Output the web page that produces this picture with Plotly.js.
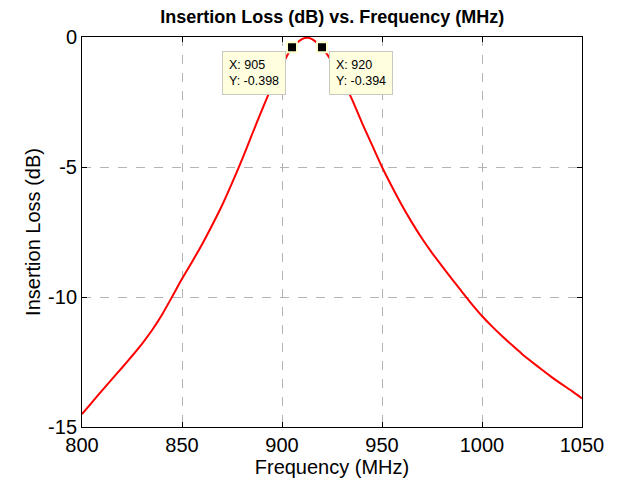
<!DOCTYPE html>
<html>
<head>
<meta charset="utf-8">
<script src="https://cdn.plot.ly/plotly-3.0.1.min.js"></script>
<style>html,body{margin:0;padding:0;background:#fff;}#chart{width:618px;height:483px;}</style>
</head>
<body>
<div id="chart"></div>
<script>
var freq = [800,805,810,815,820,825,830,835,840,845,850,855,860,865,870,875,880,885,890,895,900,905,910,912.5,915,920,925,930,935,940,945,950,955,960,965,970,975,980,985,990,995,1000,1005,1010,1015,1020,1025,1030,1035,1040,1045,1050];
var loss = [-14.5,-14.05,-13.6,-13.16,-12.72,-12.27,-11.8,-11.28,-10.68,-10.0,-9.3,-8.65,-7.98,-7.25,-6.48,-5.62,-4.72,-3.75,-2.8,-1.9,-1.1,-0.398,-0.08,-0.03,-0.08,-0.394,-0.95,-1.6,-2.4,-3.3,-4.15,-5.0,-5.76,-6.48,-7.14,-7.75,-8.3,-8.81,-9.31,-9.8,-10.28,-10.73,-11.13,-11.5,-11.85,-12.19,-12.5,-12.8,-13.09,-13.36,-13.62,-13.9];
var tipX = [905, 920];
var tipY = [-0.398, -0.394];
var xTicks = [800, 850, 900, 950, 1000, 1050];
var yTicks = [0, -5, -10, -15];
var yTickText = ['0', '-5', '-10', '-15'];
var titleText = 'Insertion Loss (dB) vs. Frequency (MHz)';
var xTitle = 'Frequency (MHz)';
var yTitle = 'Insertion Loss (dB)';

var traces = [
  {x: freq, y: loss, type: 'scatter', mode: 'lines', line: {color: '#ff0000', width: 2, shape: 'spline', smoothing: 0.6}, hoverinfo: 'skip'},
  {x: tipX, y: tipY, type: 'scatter', mode: 'markers', marker: {symbol: 'square', size: 10, color: '#000000', line: {color: '#ffffd0', width: 2}}, hoverinfo: 'skip'}
];

var annFont = {family: 'Arial, Liberation Sans, sans-serif', size: 12.5, color: '#000'};
var annotations = [
  {x: 902, y: -0.52, xref: 'x', yref: 'y', xanchor: 'right', yanchor: 'top', showarrow: false, align: 'left',
   text: 'X: ' + tipX[0] + '<br>Y: ' + tipY[0], bgcolor: '#ffffe0', bordercolor: '#c8c8c0', borderwidth: 1, borderpad: 6, font: annFont},
  {x: 923.5, y: -0.52, xref: 'x', yref: 'y', xanchor: 'left', yanchor: 'top', showarrow: false, align: 'left',
   text: 'X: ' + tipX[1] + '<br>Y: ' + tipY[1], bgcolor: '#ffffe0', bordercolor: '#c8c8c0', borderwidth: 1, borderpad: 6, font: annFont}
];

var axisCommon = {
  showline: true, linecolor: '#000', linewidth: 1, mirror: 'ticks',
  ticks: 'inside', ticklen: 5, tickcolor: '#000', tickwidth: 1,
  showgrid: true, gridcolor: '#b4b4b4', gridwidth: 1, griddash: 'dash',
  zeroline: false, tickfont: {family: 'Arial, Liberation Sans, sans-serif', size: 20, color: '#000'},
  automargin: false
};

var layout = {
  width: 618, height: 483,
  margin: {l: 82, r: 36, t: 37, b: 56},
  paper_bgcolor: '#fff', plot_bgcolor: '#fff',
  showlegend: false,
  title: {text: '<b>' + titleText + '</b>', x: 0.5375, xanchor: 'center', y: 0.965, yanchor: 'middle',
          font: {family: 'Arial, Liberation Sans, sans-serif', size: 18, color: '#000'}},
  xaxis: Object.assign({}, axisCommon, {range: [800, 1050], tickvals: xTicks,
    title: {text: xTitle, standoff: 4, font: {family: 'Arial, Liberation Sans, sans-serif', size: 20, color: '#000'}}}),
  yaxis: Object.assign({}, axisCommon, {range: [-15, 0], tickvals: yTicks, ticktext: yTickText,
    title: {text: yTitle, standoff: 2, font: {family: 'Arial, Liberation Sans, sans-serif', size: 20, color: '#000'}}}),
  annotations: annotations
};

Plotly.newPlot('chart', traces, layout, {displayModeBar: false, staticPlot: true});
</script>
</body>
</html>
